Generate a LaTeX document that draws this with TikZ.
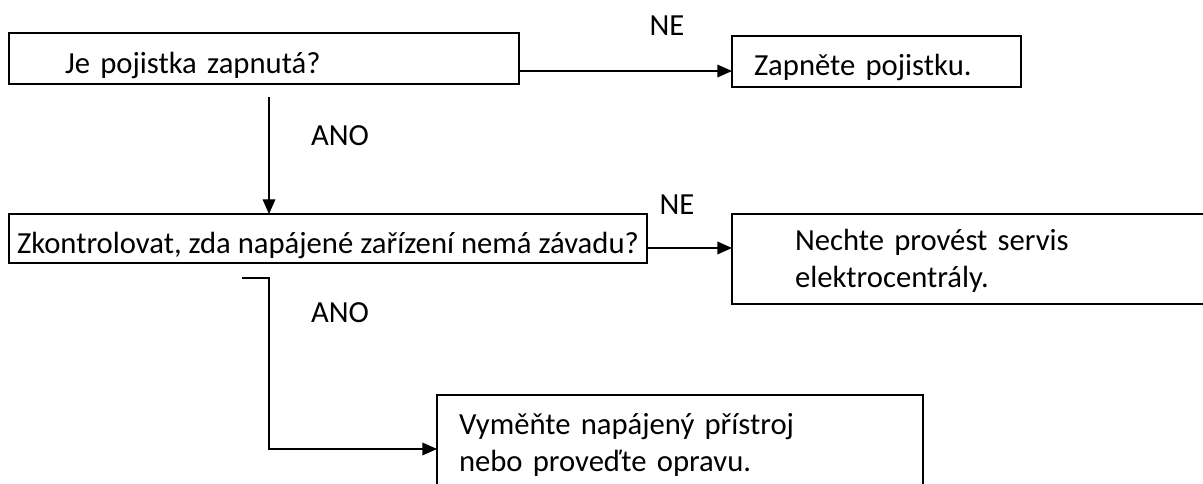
\documentclass[tikz,border=0pt]{standalone}
\usepackage{fontspec}
\setmainfont{Carlito}
\usepackage{tikz}
\usetikzlibrary{arrows.meta}
\usetikzlibrary{calc}
\tikzset{>={Triangle[length=11pt,width=9.5pt]}}
\tikzset{
  box/.style={draw, line width=1.3pt, inner ysep=0pt, outer sep=0pt, anchor=north west, align=left, font=\fontsize{23}{27.75}\selectfont},
  answer/.style={font=\fontsize{23}{27}\selectfont},
  link/.style={->, line width=1pt}
}

\begin{document}
\begin{tikzpicture}[x=0.75pt, y=-0.75pt]
  \useasboundingbox (0, 0) rectangle (1203, 484);
  \node[box, inner xsep=42pt, text width=298.5pt, text height=30.75pt, text depth=7.5pt] (q1) at (9, 33) {Je pojistka zapnutá?};
  \node[box, inner xsep=16.5pt, text width=183.75pt, text height=30pt, text depth=8.25pt] (a1) at (732, 36) {Zapněte pojistku.};
  \node[box, inner xsep=6pt, text height=30pt, text depth=6.75pt] (q2) at (9, 214) {Zkontrolovat, zda napájené zařízení nemá závadu?};
  \node[box, inner xsep=47.25pt, text width=301.5pt, text height=27.75pt, text depth=39.75pt] (a2) at (732, 214) {Nechte provést servis\\elektrocentrály.};
  \node[box, inner xsep=16.5pt, text width=331.5pt, text height=30pt, text depth=51pt] (a3) at (437, 395) {Vyměňte napájený přístroj\\nebo proveďte opravu.};
  \coordinate (n1) at ([yshift=-9.4pt]q1.east);
  \coordinate (n2) at ([yshift=-7.1pt]q2.east);
  \coordinate (y1) at (269, 97);
  \coordinate (y2) at (242, 278);
  \draw[link] (n1) -- (n1 -| a1.west);
  \draw[link] (y1) -- (y1 |- q2.north);
  \draw[link] (n2) -- (n2 -| a2.west);
  \draw[link] (y2) -- (y2 -| y1) -- (y1 |- a3.west) -- (a3.west);
  \node[answer] (ne1) at (667, 26) {NE};
  \node[answer] (ano1) at (340, 136) {ANO};
  \node[answer] (ne2) at (677, 205) {NE};
  \node[answer] (ano2) at (340, 313) {ANO};
\end{tikzpicture}
\end{document}
